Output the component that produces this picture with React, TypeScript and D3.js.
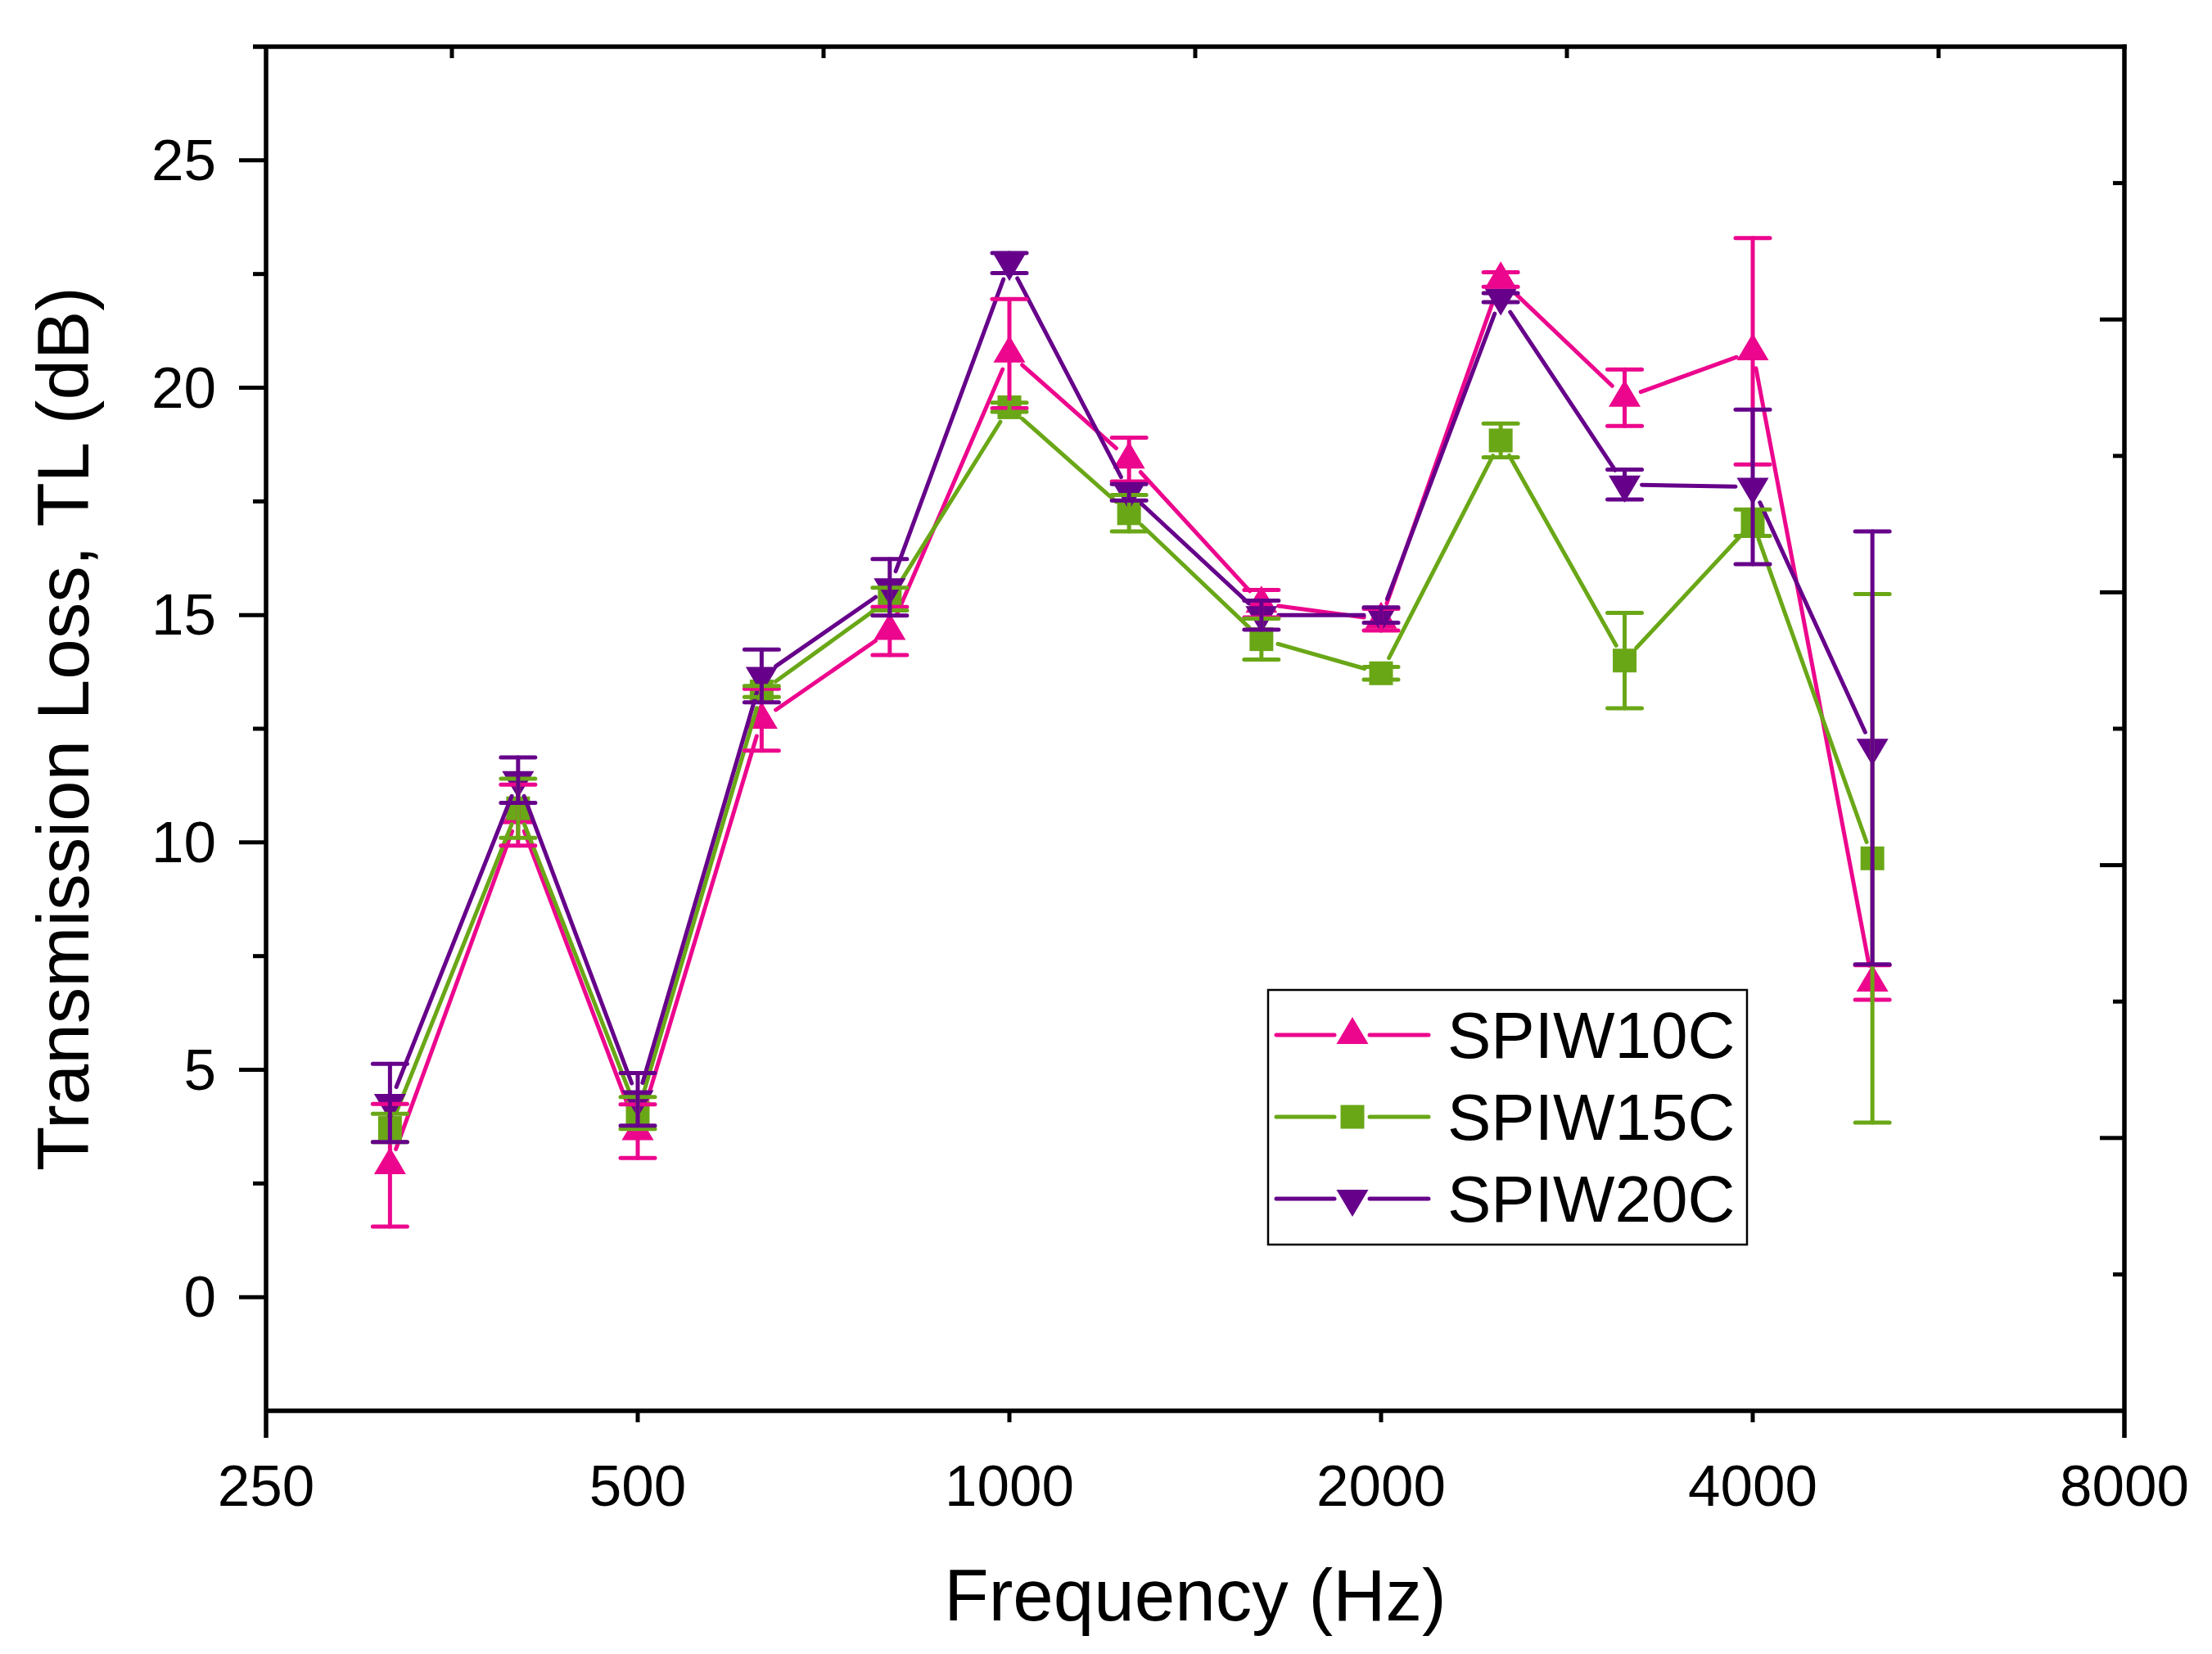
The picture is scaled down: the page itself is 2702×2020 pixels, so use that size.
import React from "react";
import * as d3 from "d3";

// ---- data ----
const freqs = [315, 400, 500, 630, 800, 1000, 1250, 1600, 2000, 2500, 3150, 4000, 5000];

const spiw10 = [2.9, 10.6, 3.65, 12.7, 14.65, 20.75, 18.42, 15.25, 14.9, 22.38, 19.78, 20.8, 6.92];
const spiw10Err = [1.35, 0.67, 0.59, 0.68, 0.53, 1.2, 0.48, 0.3, 0.24, 0.16, 0.62, 2.49, 0.38];

const spiw15 = [3.72, 10.75, 4.05, 13.32, 15.35, 19.57, 17.24, 14.47, 13.72, 18.84, 14.0, 17.03, 9.65];
const spiw15Err = [0.31, 0.65, 0.35, 0.12, 0.25, 0.1, 0.4, 0.45, 0.14, 0.37, 1.05, 0.29, 5.81];

const spiw20 = [4.27, 11.37, 4.35, 13.66, 15.61, 22.74, 17.7, 15.0, 15.0, 21.98, 17.87, 17.82, 12.08];
const spiw20Err = [0.86, 0.5, 0.58, 0.58, 0.62, 0.22, 0.18, 0.32, 0.17, 0.1, 0.33, 1.7, 4.76];

const seriesNames = ["SPIW10C", "SPIW15C", "SPIW20C"];
const seriesColors = ["#EC068D", "#6AA717", "#66008A"];
const seriesSymbols = ["triUp", "square", "triDown"];

const xTickValues = [250, 500, 1000, 2000, 4000, 8000];
const yTickValues = [0, 5, 10, 15, 20, 25];
const yMinorValues = [2.5, 7.5, 12.5, 17.5, 22.5];
const rightTickValues = [1, 2, 3, 4, 5, 6, 7, 8, 9];

const xLabel = "Frequency (Hz)";
const yLabel = "Transmission Loss, TL (dB)";

// ---- layout ----
const W = 2702;
const H = 2020;
const L = 325;
const R = 2595;
const T = 57;
const B = 1723;
const FONT = "'Liberation Sans', Arial, Helvetica, sans-serif";

const x = d3.scaleLog().base(2).domain([250, 8000]).range([L, R]);
const y = d3.scaleLinear().domain([-2.5, 27.5]).range([B, T]);
const yRight = d3.scaleLinear().domain([0, 10]).range([B, T]);

const GAP = 21;
const CAP = 21;
const LW = 5;

function Symbol({ type, cx, cy, color }: { type: string; cx: number; cy: number; color: string }) {
  if (type === "square") {
    const s = 29;
    return <rect x={cx - s / 2} y={cy - s / 2} width={s} height={s} fill={color} />;
  }
  const w = 39;
  const h = 33;
  if (type === "triUp") {
    const pts = [
      [cx, cy - (2 * h) / 3],
      [cx + w / 2, cy + h / 3],
      [cx - w / 2, cy + h / 3],
    ];
    return <polygon points={pts.map((p) => p.join(",")).join(" ")} fill={color} />;
  }
  const pts = [
    [cx, cy + (2 * h) / 3],
    [cx + w / 2, cy - h / 3],
    [cx - w / 2, cy - h / 3],
  ];
  return <polygon points={pts.map((p) => p.join(",")).join(" ")} fill={color} />;
}

function gappedSegments(vals: number[]) {
  const pts = freqs.map((f, i) => [x(f), y(vals[i])] as [number, number]);
  const segs: string[] = [];
  for (let i = 0; i < pts.length - 1; i++) {
    const [x0, y0] = pts[i];
    const [x1, y1] = pts[i + 1];
    const dx = x1 - x0;
    const dy = y1 - y0;
    const len = Math.hypot(dx, dy);
    if (len <= 2 * GAP) continue;
    const ux = dx / len;
    const uy = dy / len;
    const line = d3.line();
    segs.push(
      line([
        [x0 + ux * GAP, y0 + uy * GAP],
        [x1 - ux * GAP, y1 - uy * GAP],
      ]) as string
    );
  }
  return segs;
}

export default function App() {
  const allVals = [spiw10, spiw15, spiw20];
  const allErr = [spiw10Err, spiw15Err, spiw20Err];

  const topMinor = xTickValues.slice(0, -1).map((v) => v * Math.SQRT2);
  const legendRows = [1264, 1364, 1464];

  return (
    <svg
      width={W}
      height={H}
      viewBox={`0 0 ${W} ${H}`}
      style={{ position: "absolute", left: 0, top: 0, background: "#fff" }}
      fontFamily={FONT}
    >
      <rect x={0} y={0} width={W} height={H} fill="#fff" />

      {/* data lines + symbols */}
      {allVals.map((vals, si) => (
        <g key={"s" + si}>
          {gappedSegments(vals).map((d, i) => (
            <path key={i} d={d} stroke={seriesColors[si]} strokeWidth={LW} fill="none" strokeLinecap="round" />
          ))}
          {freqs.map((f, i) => (
            <Symbol key={i} type={seriesSymbols[si]} cx={x(f)} cy={y(vals[i])} color={seriesColors[si]} />
          ))}
        </g>
      ))}

      {/* error bars */}
      {allVals.map((vals, si) => (
        <g key={"e" + si} stroke={seriesColors[si]} strokeWidth={LW} strokeLinecap="round">
          {freqs.map((f, i) => {
            const cx = x(f);
            const yt = y(vals[i] + allErr[si][i]);
            const yb = y(vals[i] - allErr[si][i]);
            return (
              <g key={i}>
                <line x1={cx} x2={cx} y1={yt} y2={yb} />
                <line x1={cx - CAP} x2={cx + CAP} y1={yt} y2={yt} />
                <line x1={cx - CAP} x2={cx + CAP} y1={yb} y2={yb} />
              </g>
            );
          })}
        </g>
      ))}

      {/* axes frame */}
      <g stroke="#000" strokeWidth={5.5}>
        <line x1={309} x2={R + 2.75} y1={T} y2={T} />
        <line x1={L} x2={R} y1={B} y2={B} />
        <line x1={L} x2={L} y1={T} y2={1756} />
        <line x1={R} x2={R} y1={T - 2.75} y2={1756} />
      </g>

      {/* ticks */}
      <g stroke="#000" strokeWidth={5}>
        {yTickValues.map((v) => (
          <line key={v} x1={L - 33} x2={L} y1={y(v)} y2={y(v)} />
        ))}
        {yMinorValues.map((v) => (
          <line key={v} x1={L - 16} x2={L} y1={y(v)} y2={y(v)} />
        ))}
        {rightTickValues.map((v) => (
          <line key={"r" + v} x1={R - (v % 2 === 0 ? 30 : 14)} x2={R} y1={yRight(v)} y2={yRight(v)} />
        ))}
        {xTickValues.slice(1, -1).map((v) => (
          <line key={"b" + v} x1={x(v)} x2={x(v)} y1={B} y2={B + 14} />
        ))}
        {topMinor.map((v) => (
          <line key={"t" + v} x1={x(v)} x2={x(v)} y1={T} y2={T + 14} />
        ))}
      </g>

      {/* tick labels */}
      <g fontSize={71} fill="#000">
        {yTickValues.map((v) => (
          <text key={v} x={264} y={y(v) + 24} textAnchor="end">
            {v}
          </text>
        ))}
        {xTickValues.map((v) => (
          <text key={v} x={x(v)} y={1839} textAnchor="middle">
            {v}
          </text>
        ))}
      </g>

      {/* axis titles */}
      <text x={(L + R) / 2} y={1979} textAnchor="middle" fontSize={89} fill="#000">
        {xLabel}
      </text>
      <text
        transform={`translate(108, ${(T + B) / 2}) rotate(-90)`}
        textAnchor="middle"
        fontSize={89}
        fill="#000"
      >
        {yLabel}
      </text>

      {/* legend */}
      <rect x={1549} y={1209} width={585} height={311} fill="none" stroke="#000" strokeWidth={2.5} />
      {seriesNames.map((name, i) => (
        <g key={name}>
          <line x1={1559} x2={1630} y1={legendRows[i]} y2={legendRows[i]} stroke={seriesColors[i]} strokeWidth={LW} strokeLinecap="round" />
          <line x1={1673} x2={1745} y1={legendRows[i]} y2={legendRows[i]} stroke={seriesColors[i]} strokeWidth={LW} strokeLinecap="round" />
          <Symbol type={seriesSymbols[i]} cx={1652} cy={legendRows[i]} color={seriesColors[i]} />
          <text x={1768} y={legendRows[i] + 28} fontSize={80} fill="#000">
            {name}
          </text>
        </g>
      ))}
    </svg>
  );
}
